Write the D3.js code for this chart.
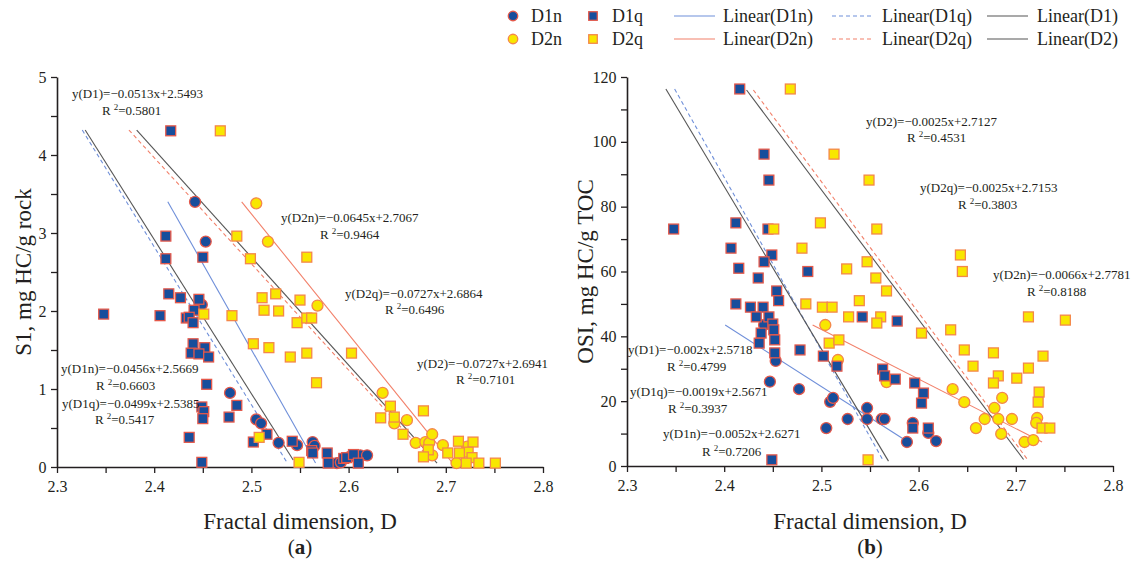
<!DOCTYPE html>
<html><head><meta charset="utf-8">
<script src="https://cdn.jsdelivr.net/npm/d3@7"></script>
<style>
body{margin:0;background:#fff}
svg{display:block}
svg text{font-family:"Liberation Serif","Times New Roman",serif !important;fill:#231f20}
</style>
</head><body>
<svg id="chart" width="1136" height="562"></svg>
<script>
// ---------------- DATA ----------------
const xTickValues = [2.3, 2.4, 2.5, 2.6, 2.7, 2.8];
const s1TickValues = [0, 1, 2, 3, 4, 5];
const osiTickValues = [0, 20, 40, 60, 80, 100, 120];
const seriesNames = ["D1n", "D1q", "D2n", "D2q"];
const fitNames = ["Linear(D1n)", "Linear(D1q)", "Linear(D1)", "Linear(D2n)", "Linear(D2q)", "Linear(D2)"];

// panel (a): S1 vs fractal dimension
const s1_D1n = [[2.442,3.40],[2.453,2.89],[2.449,2.08],[2.478,0.95],[2.505,0.61],[2.510,0.56],[2.528,0.31],[2.547,0.28],[2.563,0.32],[2.565,0.27],[2.588,0.05],[2.592,0.06],[2.601,0.13],[2.612,0.15],[2.619,0.15]];
const s1_D1q = [[2.348,1.96],[2.417,4.31],[2.412,2.96],[2.412,2.67],[2.450,2.69],[2.415,2.22],[2.427,2.17],[2.446,2.15],[2.441,2.01],[2.406,1.94],[2.433,1.91],[2.436,1.92],[2.440,1.85],[2.440,1.58],[2.438,1.46],[2.452,1.53],[2.446,1.45],[2.456,1.41],[2.454,1.06],[2.485,0.79],[2.449,0.77],[2.451,0.71],[2.450,0.62],[2.477,0.64],[2.516,0.42],[2.502,0.32],[2.436,0.38],[2.449,0.06],[2.542,0.33],[2.562,0.21],[2.563,0.18],[2.578,0.18],[2.579,0.05],[2.595,0.11],[2.598,0.12],[2.605,0.16],[2.610,0.05]];
const s1_D2n = [[2.505,3.38],[2.517,2.89],[2.568,2.07],[2.635,0.95],[2.660,0.60],[2.647,0.56],[2.669,0.31],[2.679,0.32],[2.683,0.31],[2.686,0.42],[2.686,0.15],[2.697,0.28],[2.722,0.26],[2.711,0.05]];
const s1_D2q = [[2.468,4.31],[2.485,2.96],[2.499,2.67],[2.557,2.69],[2.451,1.96],[2.480,1.94],[2.511,2.17],[2.525,2.22],[2.550,2.14],[2.513,2.01],[2.528,2.00],[2.547,1.85],[2.557,1.91],[2.562,1.91],[2.502,1.58],[2.518,1.53],[2.540,1.41],[2.557,1.46],[2.603,1.46],[2.567,1.08],[2.508,0.38],[2.549,0.06],[2.643,0.78],[2.677,0.72],[2.633,0.63],[2.647,0.64],[2.656,0.42],[2.682,0.22],[2.677,0.13],[2.702,0.18],[2.713,0.33],[2.728,0.32],[2.723,0.19],[2.714,0.18],[2.727,0.12],[2.721,0.05],[2.734,0.05],[2.751,0.05]];
// fitted trend-line end points (x, S1)
const s1Fits = [
  [[2.414,3.40],[2.566,0.05]],  // D1n
  [[2.326,4.32],[2.537,0.05]],  // D1q
  [[2.329,4.32],[2.543,0.09]],  // D1
  [[2.490,3.40],[2.707,0.05]],  // D2n
  [[2.374,4.32],[2.684,0.10]],  // D2q
  [[2.382,4.32],[2.691,0.05]]   // D2
];
const s1Equations = ["y(D1)=−0.0513x+2.5493","y(D2n)=−0.0645x+2.7067","y(D2q)=−0.0727x+2.6864","y(D2)=−0.0727x+2.6941","y(D1n)=−0.0456x+2.5669","y(D1q)=−0.0499x+2.5385"];
const s1R2 = ["0.5801","0.9464","0.6496","0.7101","0.6603","0.5417"];

// panel (b): OSI vs fractal dimension
const osi_D1n = [[2.441,43.5],[2.453,32.4],[2.447,26.0],[2.477,23.7],[2.509,19.8],[2.512,21.0],[2.505,11.7],[2.527,14.5],[2.547,17.9],[2.547,14.5],[2.562,14.5],[2.565,14.5],[2.594,13.3],[2.610,10.2],[2.618,7.7],[2.588,7.4]];
const osi_D1q = [[2.416,116.3],[2.441,96.2],[2.446,88.2],[2.348,73.1],[2.412,75.0],[2.445,73.1],[2.407,67.2],[2.449,65.1],[2.441,63.0],[2.415,61.0],[2.486,60.0],[2.435,58.0],[2.454,54.0],[2.456,51.0],[2.412,50.0],[2.427,49.0],[2.440,49.0],[2.433,46.0],[2.446,46.0],[2.450,43.8],[2.451,42.0],[2.438,41.0],[2.452,38.9],[2.436,37.9],[2.478,35.8],[2.452,34.9],[2.502,33.9],[2.516,30.8],[2.542,46.0],[2.578,44.7],[2.563,29.9],[2.565,27.8],[2.576,26.8],[2.596,25.6],[2.605,22.5],[2.603,19.4],[2.594,11.7],[2.610,11.7],[2.449,1.9]];
const osi_D2n = [[2.504,43.5],[2.517,32.7],[2.567,25.9],[2.635,23.7],[2.647,19.7],[2.686,21.0],[2.678,17.9],[2.668,14.5],[2.682,14.5],[2.696,14.5],[2.659,11.7],[2.685,9.9],[2.709,7.4],[2.718,8.0],[2.722,14.8],[2.721,13.3]];
const osi_D2q = [[2.468,116.3],[2.513,96.2],[2.549,88.2],[2.451,73.1],[2.499,75.0],[2.557,73.1],[2.480,67.2],[2.547,63.0],[2.526,60.8],[2.556,58.0],[2.567,54.0],[2.539,51.0],[2.484,50.0],[2.501,49.0],[2.511,49.0],[2.528,46.0],[2.561,46.0],[2.557,44.1],[2.508,37.9],[2.518,38.9],[2.548,1.9],[2.643,65.1],[2.645,60.0],[2.603,41.0],[2.633,42.0],[2.647,35.8],[2.656,30.8],[2.677,34.9],[2.682,27.8],[2.677,25.6],[2.701,27.1],[2.713,30.2],[2.713,46.0],[2.751,45.0],[2.728,33.9],[2.724,22.8],[2.723,19.7],[2.727,11.7],[2.735,11.7]];
const osiFits = [
  [[2.401,43.5],[2.586,8.0]],    // D1n
  [[2.349,116.3],[2.563,2.0]],   // D1q
  [[2.340,116.3],[2.569,1.5]],   // D1
  [[2.491,43.5],[2.727,7.4]],    // D2n
  [[2.430,116.0],[2.712,2.0]],   // D2q
  [[2.423,116.0],[2.708,2.0]]    // D2
];
const osiEquations = ["y(D2)=−0.0025x+2.7127","y(D2q)=−0.0025x+2.7153","y(D2n)=−0.0066x+2.7781","y(D1)=−0.002x+2.5718","y(D1q)=−0.0019x+2.5671","y(D1n)=−0.0052x+2.6271"];
const osiR2 = ["0.4531","0.3803","0.8188","0.4799","0.3937","0.7206"];

// ---------------- STYLE / LAYOUT ----------------
const FONT = '"Liberation Serif","Times New Roman",serif';
const BLUE = "#174e9c", BLUE_EDGE = "#e4584a";
const YEL = "#f8e700", YEL_EDGE = "#f4874a";
const markerStyle = {
  D1n: {shape: "circle", fill: BLUE, stroke: BLUE_EDGE},
  D1q: {shape: "square", fill: BLUE, stroke: BLUE_EDGE},
  D2n: {shape: "circle", fill: YEL, stroke: YEL_EDGE},
  D2q: {shape: "square", fill: YEL, stroke: YEL_EDGE}
};
const fitStyle = [
  {color: "#6f8fd9", dash: null},
  {color: "#6f8fd9", dash: "4,3"},
  {color: "#555", dash: null},
  {color: "#f2806a", dash: null},
  {color: "#f2806a", dash: "4,3"},
  {color: "#555", dash: null}
];

const svg = d3.select("#chart");

function drawMarker(g, shape, cx, cy, st, size) {
  if (shape === "circle") {
    g.append("circle").attr("cx", cx).attr("cy", cy).attr("r", size / 2)
      .attr("fill", st.fill).attr("stroke", st.stroke).attr("stroke-width", 1.3);
  } else {
    const s = size * 0.9;
    g.append("rect").attr("x", cx - s / 2).attr("y", cy - s / 2).attr("width", s).attr("height", s)
      .attr("fill", st.fill).attr("stroke", st.stroke).attr("stroke-width", 1.3);
  }
}

function panel(opts) {
  const x = d3.scaleLinear().domain([2.3, 2.8]).range([opts.x0, opts.x1]);
  const y = d3.scaleLinear().domain([0, opts.yMax]).range([opts.yBottom, opts.yTop]);
  const g = svg.append("g");

  // axes
  const xAxis = d3.axisBottom(x).tickValues(d3.range(2.3, 2.801, 0.05))
    .tickFormat(d => xTickValues.some(v => Math.abs(v - d) < 1e-6) ? d3.format(".1f")(d) : "")
    .tickSize(6).tickSizeOuter(0);
  const gx = g.append("g").attr("transform", `translate(0,${opts.yBottom})`).call(xAxis);
  const yAxis = d3.axisLeft(y).tickValues(d3.range(0, opts.yMax + 1e-9, opts.yMinor))
    .tickFormat(d => opts.yTicks.includes(+d.toFixed(6)) ? String(d) : "")
    .tickSize(6).tickSizeOuter(0);
  const gy = g.append("g").attr("transform", `translate(${opts.x0},0)`).call(yAxis);
  [gx, gy].forEach(a => {
    a.attr("font-family", FONT).attr("font-size", 16);
    a.select(".domain").attr("stroke", "#231f20").attr("stroke-width", 1.6);
    a.selectAll(".tick line").attr("stroke", "#231f20").attr("stroke-width", 1.3);
    a.selectAll(".tick text").attr("font-family", FONT).attr("font-size", 16).attr("fill", "#231f20");
  });
  gx.selectAll(".tick text").attr("dy", "1.0em");
  gy.selectAll(".tick text").attr("dx", "-0.1em");

  // fitted lines
  opts.fits.forEach((f, i) => {
    g.append("line").attr("x1", x(f[0][0])).attr("y1", y(f[0][1]))
      .attr("x2", x(f[1][0])).attr("y2", y(f[1][1]))
      .attr("stroke", fitStyle[i].color).attr("stroke-width", 1.1)
      .attr("stroke-dasharray", fitStyle[i].dash);
  });

  // points: circles first, then squares
  const order = ["D1n", "D2n", "D1q", "D2q"];
  order.forEach(name => {
    const st = markerStyle[name];
    opts.series[name].forEach(p => drawMarker(g, st.shape, x(p[0]), y(p[1]), st, 11));
  });

  // equations
  opts.eqPos.forEach((p, i) => {
    g.append("text").attr("x", p[0]).attr("y", p[1] + 4.5).style("font-size", "13px").text(opts.eqs[i]);
    const t = g.append("text").attr("x", p[2]).attr("y", p[3] + 4.5).style("font-size", "13px");
    t.append("tspan").text("R");
    t.append("tspan").attr("dx", 3).attr("dy", -5).style("font-size", "9px").text("2");
    t.append("tspan").attr("dy", 5).text("=" + opts.r2[i]);
  });

  // axis titles
  g.append("text").attr("transform", `translate(${opts.yTitleX},${(opts.yTop + opts.yBottom) / 2}) rotate(-90)`)
    .attr("text-anchor", "middle").style("font-size", "23px").text(opts.yTitle);
  const cx = (opts.x0 + opts.x1) / 2;
  g.append("text").attr("x", cx).attr("y", 529).attr("text-anchor", "middle").style("font-size", "23px")
    .text("Fractal dimension, D");
  const lt = g.append("text").attr("x", cx).attr("y", 554).attr("text-anchor", "middle").style("font-size", "21px");
  lt.append("tspan").text("(");
  lt.append("tspan").style("font-weight", "bold").text(opts.letter);
  lt.append("tspan").text(")");
}

panel({
  x0: 57, x1: 543, yTop: 77, yBottom: 467, yMax: 5, yMinor: 0.5, yTicks: s1TickValues,
  series: {D1n: s1_D1n, D1q: s1_D1q, D2n: s1_D2n, D2q: s1_D2q},
  fits: s1Fits, eqs: s1Equations, r2: s1R2,
  eqPos: [[72,93,102,110],[281,217,320,234],[345,293,385,309],[417,363,456,379],[61,368,96,385],[62,403,95,419]],
  yTitle: "S1, mg HC/g rock", yTitleX: 31, letter: "a"
});
panel({
  x0: 627, x1: 1113, yTop: 77, yBottom: 466, yMax: 120, yMinor: 10, yTicks: osiTickValues,
  series: {D1n: osi_D1n, D1q: osi_D1q, D2n: osi_D2n, D2q: osi_D2q},
  fits: osiFits, eqs: osiEquations, r2: osiR2,
  eqPos: [[866,121,907,137],[920,187,958,204],[993,274,1027,291],[628,349,667,366],[630,391,668,408],[663,433,702,451]],
  yTitle: "OSI, mg HC/g TOC", yTitleX: 593, letter: "b"
});

// ---------------- LEGEND ----------------
const legend = svg.append("g");
const legRows = [16, 39];
const legItems = [
  {type: "marker", name: "D1n", row: 0, sx: 513, tx: 531},
  {type: "marker", name: "D1q", row: 0, sx: 593, tx: 612},
  {type: "line", fit: 0, row: 0, sx: 674, ex: 715, tx: 723},
  {type: "line", fit: 1, row: 0, sx: 832, ex: 872, tx: 882},
  {type: "line", fit: 2, row: 0, sx: 987, ex: 1028, tx: 1037},
  {type: "marker", name: "D2n", row: 1, sx: 513, tx: 531},
  {type: "marker", name: "D2q", row: 1, sx: 593, tx: 612},
  {type: "line", fit: 3, row: 1, sx: 674, ex: 715, tx: 723},
  {type: "line", fit: 4, row: 1, sx: 832, ex: 872, tx: 882},
  {type: "line", fit: 5, row: 1, sx: 987, ex: 1028, tx: 1037}
];
legItems.forEach(it => {
  const yy = legRows[it.row];
  let label;
  if (it.type === "marker") {
    const st = markerStyle[it.name];
    drawMarker(legend, st.shape, it.sx, yy, st, 9.5);
    label = it.name;
  } else {
    const fs = fitStyle[it.fit];
    legend.append("line").attr("x1", it.sx).attr("x2", it.ex).attr("y1", yy).attr("y2", yy)
      .attr("stroke", fs.color).attr("stroke-width", 1.2).attr("stroke-dasharray", fs.dash);
    label = fitNames[it.fit];
  }
  legend.append("text").attr("x", it.tx).attr("y", yy + 6).style("font-size", "18px").text(label);
});
</script>
</body></html>
